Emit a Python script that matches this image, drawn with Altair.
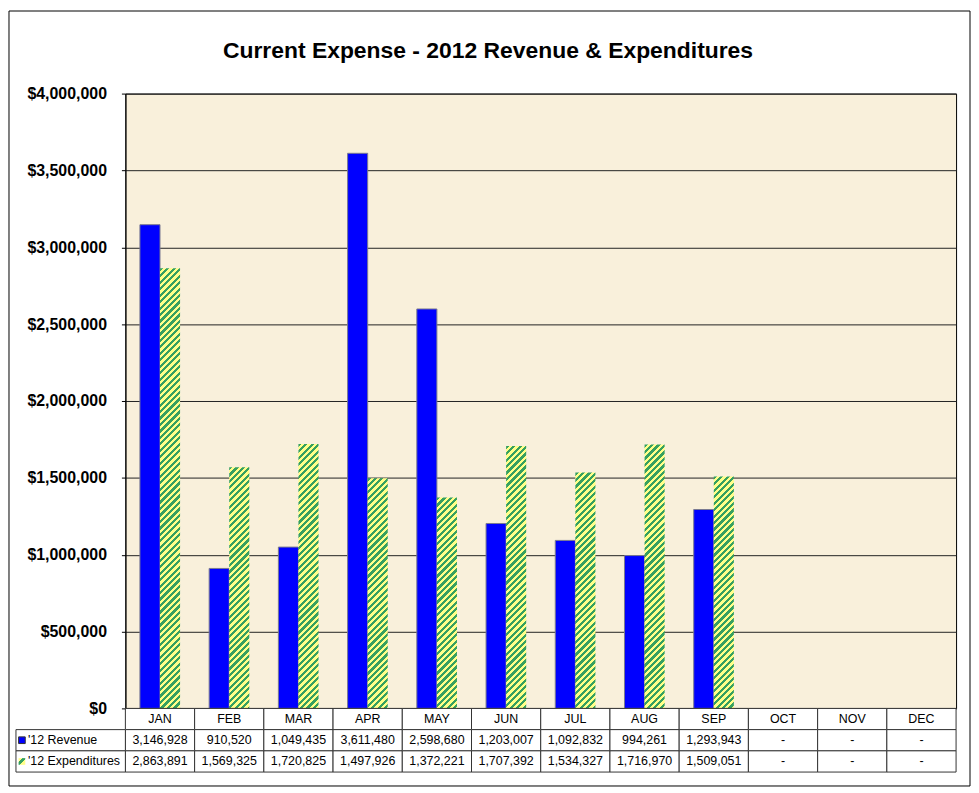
import math
import altair as alt
import pandas as pd

# ---------------- data ----------------
months = ["JAN", "FEB", "MAR", "APR", "MAY", "JUN", "JUL", "AUG", "SEP", "OCT", "NOV", "DEC"]
revenue = [3146928, 910520, 1049435, 3611480, 2598680, 1203007, 1092832, 994261, 1293943, None, None, None]
expenditures = [2863891, 1569325, 1720825, 1497926, 1372221, 1707392, 1534327, 1716970, 1509051, None, None, None]
series_names = ["Revenue", "Expenditures"]
row_keys = ["hdr", "rev", "exp"]
row_labels = ["'12 Revenue", "'12 Expenditures"]
y_ticks = [0, 500000, 1000000, 1500000, 2000000, 2500000, 3000000, 3500000, 4000000]
TITLE = "Current Expense - 2012 Revenue & Expenditures"

# ---------------- style ----------------
FONT = "Liberation Sans, Arial, Helvetica, sans-serif"
PLOT_W, PLOT_H = 835, 618
TABLE_H = 64
Y_MAX = 4000000
PAD_INNER = 0.42
BLUE = "#0000FF"
GREEN = "#36A060"
YELLOW = "#FFFF88"
BG = "#F9F0DB"
LINE = "#333333"
STRIPE_PERIOD = 6.5   # px, measured vertically
STRIPE_GREEN = 3.2    # px


def stripe_gradient(w, h):
    """45-degree '/' stripes expressed as a bbox-relative linear gradient."""
    a = w / h
    s = (a + 1) / (a * a + 1)
    total = h + w
    stops = []
    k = 0
    while True:
        t0 = k * STRIPE_PERIOD / total
        if t0 >= 1:
            break
        tg = min(1.0, (k * STRIPE_PERIOD + STRIPE_GREEN) / total)
        t1 = min(1.0, (k + 1) * STRIPE_PERIOD / total)
        stops += [{"offset": round(t0, 5), "color": GREEN},
                  {"offset": round(tg, 5), "color": GREEN},
                  {"offset": round(tg, 5), "color": YELLOW},
                  {"offset": round(t1, 5), "color": YELLOW}]
        k += 1
    return {"gradient": "linear", "x1": 0, "y1": 0, "x2": a * s, "y2": s, "stops": stops}


recs = []
for m, r, e in zip(months, revenue, expenditures):
    if r is not None:
        recs.append({"month": m, "series": "Revenue", "value": r})
    if e is not None:
        recs.append({"month": m, "series": "Expenditures", "value": e})
bars_df = pd.DataFrame(recs)

x_enc = alt.X(
    "month:N",
    scale=alt.Scale(domain=months, paddingInner=PAD_INNER, paddingOuter=PAD_INNER / 2),
    title=TITLE,
    axis=alt.Axis(orient="top", labels=False, ticks=False, domain=False, grid=False,
                  titleFont=FONT, titleFontSize=23, titleFontWeight="bold", titleColor="black",
                  titlePadding=31, titleX=364, titleAlign="center"),
)
xo_enc = alt.XOffset("series:N", scale=alt.Scale(domain=series_names, paddingInner=0, paddingOuter=0))
y_enc = alt.Y(
    "value:Q",
    scale=alt.Scale(domain=[0, Y_MAX], nice=False),
    title=None,
    axis=alt.Axis(values=y_ticks, format="$,.0f", labelFont=FONT, labelFontSize=16,
                  labelFontWeight="bold", labelColor="black", tickSize=4, tickColor="black",
                  labelPadding=15, grid=True, gridColor="#222222", gridWidth=1,
                  domainColor="black", domainWidth=1),
)

frame = alt.Chart(pd.DataFrame({"k": [0]})).mark_rect(
    fillOpacity=0, stroke="black", strokeWidth=1, clip=False
).encode(x=alt.value(-117), x2=alt.value(849), y=alt.value(-83), y2=alt.value(696))

rev_layer = alt.Chart(bars_df).transform_filter(alt.datum.series == "Revenue").mark_bar(
    fill=BLUE, stroke="#7a7a90", strokeWidth=1
).encode(x=x_enc, xOffset=xo_enc, y=y_enc)

layers = [frame, rev_layer]
step = PLOT_W / len(months)
bar_w = step * (1 - PAD_INNER) / 2
for m, e in zip(months, expenditures):
    if e is None:
        continue
    h = e / Y_MAX * PLOT_H
    lay = alt.Chart(bars_df).transform_filter(
        (alt.datum.series == "Expenditures") & (alt.datum.month == m)
    ).mark_bar(fill=stripe_gradient(bar_w, h), strokeWidth=0).encode(x=x_enc, xOffset=xo_enc, y=y_enc)
    layers.append(lay)

bars = alt.layer(*layers).properties(
    width=PLOT_W, height=PLOT_H,
    view=alt.ViewBackground(fill=BG, stroke="black", strokeWidth=1),
)

# ---------------- data table ----------------
tbl = []
for m, r, e in zip(months, revenue, expenditures):
    tbl.append({"month": m, "row": "hdr", "text": m})
    tbl.append({"month": m, "row": "rev", "text": f"{r:,}" if r is not None else "-"})
    tbl.append({"month": m, "row": "exp", "text": f"{e:,}" if e is not None else "-"})
tbl_df = pd.DataFrame(tbl)
lab_df = pd.DataFrame({"row": ["rev", "exp"], "label": row_labels})

tx = alt.X("month:N", scale=alt.Scale(domain=months, paddingInner=0, paddingOuter=0), axis=None)
ty = alt.Y("row:N", scale=alt.Scale(domain=row_keys, paddingInner=0, paddingOuter=0), axis=None)

cells = alt.Chart(tbl_df).mark_rect(fill="white", stroke=LINE, strokeWidth=1).encode(x=tx, y=ty)
cell_text = alt.Chart(tbl_df).mark_text(font=FONT, fontSize=12.5, color="black").encode(
    x=tx, y=ty, text="text:N")
lab_cells = alt.Chart(lab_df).mark_rect(fill="white", stroke=LINE, strokeWidth=1, clip=False).encode(
    x=alt.value(-110), x2=alt.value(0), y=ty)
lab_text = alt.Chart(lab_df).mark_text(font=FONT, fontSize=12.5, color="black", align="left", clip=False).encode(
    x=alt.value(-98), y=ty, text="label:N")
sym_rev = alt.Chart(lab_df).transform_filter(alt.datum.row == "rev").mark_point(
    shape="square", filled=True, fill=BLUE, stroke=LINE, strokeWidth=1, size=45, opacity=1, clip=False
).encode(x=alt.value(-104), y=ty)
sym_exp = alt.Chart(lab_df).transform_filter(alt.datum.row == "exp").mark_point(
    shape="square", filled=True, size=45, opacity=1, clip=False,
    fill={"gradient": "linear", "x1": 0, "y1": 0, "x2": 1, "y2": 1,
          "stops": [{"offset": 0, "color": YELLOW}, {"offset": 0.3, "color": YELLOW},
                    {"offset": 0.3, "color": GREEN}, {"offset": 0.6, "color": GREEN},
                    {"offset": 0.6, "color": YELLOW}, {"offset": 1, "color": YELLOW}]}
).encode(x=alt.value(-104), y=ty)

table = alt.layer(cells, cell_text, lab_cells, lab_text, sym_rev, sym_exp).properties(
    width=PLOT_W, height=TABLE_H,
    view=alt.ViewBackground(stroke="transparent"),
)

chart = alt.vconcat(bars, table, spacing=0, bounds="flush").properties(
    padding=0, background="white"
).configure(font=FONT)

chart.save("out.html", embed_options={"renderer": "svg", "actions": False})
